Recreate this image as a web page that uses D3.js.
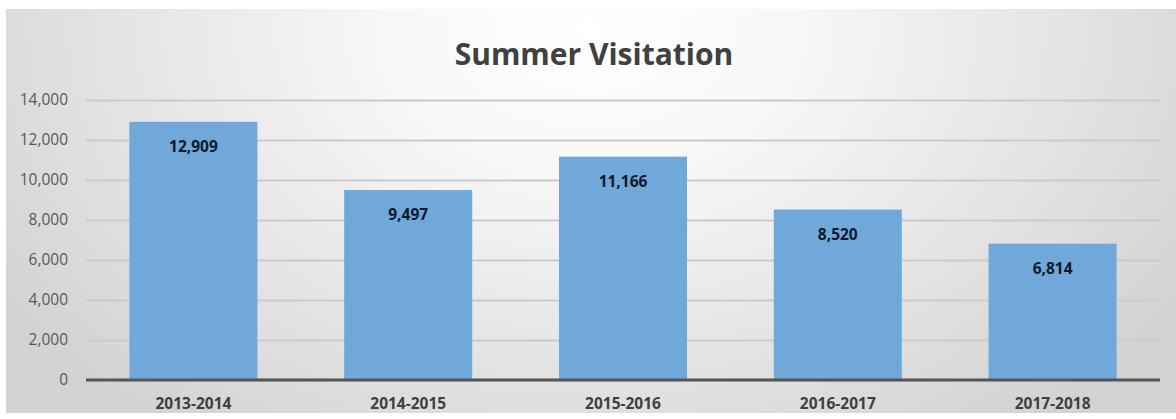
<!DOCTYPE html>
<html><head><meta charset="utf-8">
<script src="https://cdn.jsdelivr.net/npm/d3@7"></script>
<style>html,body{margin:0;padding:0;background:#fff;}svg{display:block;}</style>
</head><body>
<script>
const categories = ["2013-2014","2014-2015","2015-2016","2016-2017","2017-2018"];
const visitors = [12909, 9497, 11166, 8520, 6814];
const yTicks = [0,2000,4000,6000,8000,10000,12000,14000];
const title = "Summer Visitation";

const W = 1176, H = 419;
const svg = d3.select("body").append("svg").attr("width", W).attr("height", H);
const defs = svg.append("defs");
const grad = defs.append("radialGradient").attr("id","bg")
  .attr("gradientUnits","userSpaceOnUse").attr("cx",590).attr("cy",30).attr("r",700)
  .attr("gradientTransform","translate(590,30) scale(1,0.7) translate(-590,-30)");
grad.append("stop").attr("offset","0").attr("stop-color","#ffffff");
grad.append("stop").attr("offset","0.3").attr("stop-color","#f7f7f7");
grad.append("stop").attr("offset","0.7").attr("stop-color","#e3e3e3");
grad.append("stop").attr("offset","1").attr("stop-color","#d3d3d3");
svg.append("rect").attr("x",6).attr("y",9).attr("width",1170).attr("height",404).attr("fill","url(#bg)");

const m = {left:86, right:1160, top:100, bottom:380};
const x = d3.scaleBand().domain(categories).range([m.left, m.right]).paddingInner(0.404).paddingOuter(0.202);
const y = d3.scaleLinear().domain([0,14000]).range([m.bottom, m.top]);

// gridlines
const yAxis = d3.axisLeft(y).tickValues(yTicks).tickSize(-(m.right-m.left)).tickFormat(d3.format(","));
const ga = svg.append("g").attr("transform",`translate(${m.left},0)`).call(yAxis);
ga.select(".domain").remove();
ga.selectAll(".tick line").attr("stroke","#cbcbcb").attr("stroke-width",2);
ga.selectAll(".tick text").attr("x",-18).attr("fill","#595959")
  .style("font-family","'Open Sans', sans-serif").style("font-size","15.5px");

// bars
svg.append("g").selectAll("rect").data(categories).join("rect")
  .attr("x", d => x(d)).attr("width", x.bandwidth())
  .attr("y", (d,i) => y(visitors[i])).attr("height", (d,i) => y(0) - y(visitors[i]))
  .attr("fill","#6fa8d9");

// zero axis
const xAxis = d3.axisBottom(x).tickSize(0).tickPadding(29);
const gx = svg.append("g").attr("transform",`translate(0,${y(0)})`).call(xAxis);
gx.select(".domain").attr("stroke","#555").attr("stroke-width",3).attr("d",`M${m.left},0H${m.right}`);
gx.selectAll(".tick text").attr("fill","#404040").attr("dy","0")
  .style("font-family","'Open Sans', sans-serif").style("font-size","15.5px").style("font-weight","bold");

// data labels
svg.append("g").selectAll("text").data(categories).join("text")
  .attr("x", d => x(d) + x.bandwidth()/2).attr("y", (d,i) => y(visitors[i]) + 30)
  .attr("text-anchor","middle").attr("fill","#0d1a2b")
  .style("font-family","'Open Sans', sans-serif").style("font-size","15.5px").style("font-weight","bold")
  .text((d,i) => d3.format(",")(visitors[i]));

// title
svg.append("text").attr("x",594).attr("y",65).attr("text-anchor","middle").attr("fill","#404040")
  .style("font-family","'Open Sans', sans-serif").style("font-size","30px").style("font-weight","bold")
  .text(title);
</script>
</body></html>
